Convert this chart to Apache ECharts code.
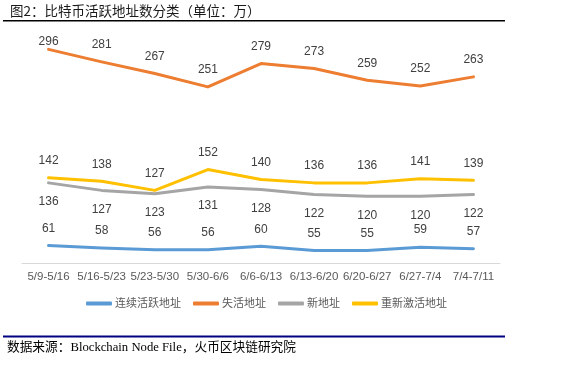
<!DOCTYPE html>
<html><head><meta charset="utf-8">
<script src="https://cdn.jsdelivr.net/npm/echarts@6/dist/echarts.min.js"></script>
<style>html,body{margin:0;padding:0;background:#fff}#c{width:567px;height:366px}</style>
</head><body><div id="c"></div>
<script>
var categories = ['5/9-5/16','5/16-5/23','5/23-5/30','5/30-6/6','6/6-6/13','6/13-6/20','6/20-6/27','6/27-7/4','7/4-7/11'];
var seriesNames = ['连续活跃地址','失活地址','新地址','重新激活地址'];
var continuousActive = [61,58,56,56,60,55,55,59,57];
var inactive = [296,281,267,251,279,273,259,252,263];
var newAddr = [136,127,123,131,128,122,120,120,122];
var reactivated = [142,138,127,152,140,136,136,141,139];
var titleText = '图2：比特币活跃地址数分类（单位：万）';
var sourceText = '数据来源：Blockchain Node File，火币区块链研究院';

var FONT = '"Liberation Sans","Noto Sans CJK SC",sans-serif';
var colors = ['#5B9BD5','#ED7D31','#A5A5A5','#FFC000'];
function mk(name, data, color, pos, dist, firstDist) {
  return {
    name: name, type: 'line', data: data.map(function(v,i){
      if (i === 0 && firstDist != null) return {value: v, label: {distance: firstDist}};
      return v;
    }),
    symbol: 'circle', symbolSize: 0, showSymbol: true,
    lineStyle: {color: color, width: 3, cap: 'round', join: 'round'},
    itemStyle: {color: color},
    label: {show: true, position: pos, distance: dist, color: '#404040', fontSize: 12, fontFamily: FONT, opacity: 1},
    labelLayout: {hideOverlap: false},
    emphasis: {disabled: true}
  };
}
var chart = echarts.init(document.getElementById('c'), null, {renderer: 'canvas'});
chart.setOption({
  animation: false,
  color: colors,
  grid: {left: 22, right: 67, top: 46, bottom: 103},
  xAxis: {
    type: 'category', data: categories, boundaryGap: true,
    axisLine: {lineStyle: {color: '#D9D9D9', width: 1}},
    axisTick: {show: false},
    axisLabel: {color: '#595959', fontSize: 11.5, fontFamily: FONT, margin: 8, interval: 0}
  },
  yAxis: {type: 'value', min: 40, max: 300, show: false, splitLine: {show: false}},
  legend: {
    data: seriesNames, left: 81, top: 293, itemWidth: 26, itemHeight: 4, itemGap: 12,
    icon: 'roundRect',
    textStyle: {color: '#595959', fontSize: 11, fontFamily: FONT, padding: [0, 0, 0, -2]}
  },
  series: [
    mk(seriesNames[0], continuousActive, colors[0], 'top', 11),
    mk(seriesNames[1], inactive, colors[1], 'top', 11, 2),
    mk(seriesNames[2], newAddr, colors[2], 'bottom', 13),
    mk(seriesNames[3], reactivated, colors[3], 'top', 11)
  ],
  graphic: [
    {type: 'text', left: 10, top: 4, style: {text: titleText, fill: '#1a1a1a', font: '13.5px "Noto Sans CJK SC",sans-serif'}},
    {type: 'rect', shape: {x: 3, y: 20, width: 502, height: 1.5}, style: {fill: '#000'}},
    {type: 'rect', shape: {x: 3, y: 335.5, width: 502, height: 2}, style: {fill: '#000080'}},
    {type: 'text', left: 7, top: 341, style: {text: sourceText, fill: '#000', font: '12.7px "Liberation Serif","Noto Sans CJK SC",serif'}}
  ]
});
</script></body></html>
